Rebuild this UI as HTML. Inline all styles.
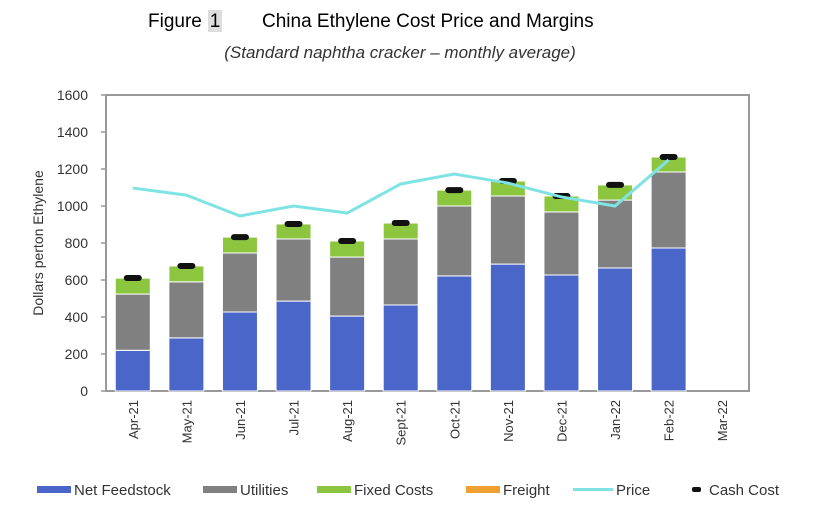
<!DOCTYPE html>
<html><head><meta charset="utf-8"><style>
body{margin:0;background:#fff;width:817px;height:517px;overflow:hidden;font-family:"Liberation Sans",sans-serif;}
</style></head><body>
<svg width="817" height="517" xmlns="http://www.w3.org/2000/svg">
<text x="148" y="27" font-size="19" font-family="Liberation Sans, sans-serif" fill="#000">Figure</text>
<rect x="208" y="10" width="14" height="22" fill="#ddd"/>
<text x="215" y="27" font-size="19" text-anchor="middle" fill="#000">1</text>
<text x="262" y="27" font-size="19" fill="#000">China Ethylene Cost Price and Margins</text>
<text x="400" y="58" font-size="17" font-style="italic" text-anchor="middle" fill="#333">(Standard naphtha cracker – monthly average)</text>
<g id="plot"></g>
<text transform="translate(43,243) rotate(-90)" font-size="14" text-anchor="middle" fill="#333">Dollars perton Ethylene</text>
<g id="legend" font-size="15" fill="#333"></g>
</svg>
<script>
const categories=["Apr-21","May-21","Jun-21","Jul-21","Aug-21","Sept-21","Oct-21","Nov-21","Dec-21","Jan-22","Feb-22","Mar-22"];
const feedstock=[220,287,427,486,405,465,622,686,627,665,773,null];
const utilities=[304,303,319,336,319,357,378,368,341,367,411,null];
const fixedCosts=[86,86,86,81,87,86,86,81,86,82,81,null];
const price=[1097,1059,946,1000,962,1119,1173,1124,1049,1000,1249];
const cashCost=[611,676,832,903,811,908,1086,1135,1054,1114,1265,null];
const yTicks=[0,200,400,600,800,1000,1200,1400,1600];
const NS="http://www.w3.org/2000/svg";
const X0=106,X1=749,Y0=391,Y1=95,YMAX=1600;
const bw=(X1-X0)/categories.length;
const y=v=>Y0-(v/YMAX)*(Y0-Y1);
const xc=i=>X0+(i+0.5)*bw;
const g=document.getElementById('plot');
function mk(t,a){const e=document.createElementNS(NS,t);for(const k in a)e.setAttribute(k,a[k]);return e;}
let fr=mk('rect',{x:X0,y:Y1,width:X1-X0,height:Y0-Y1,fill:'none',stroke:'#999','stroke-width':2});


g.appendChild(fr);
yTicks.forEach(t=>{
 let tl=mk('line',{x1:X0-5,x2:X0,y1:y(t),y2:y(t),stroke:'#999','stroke-width':1.5});
 
 
 g.appendChild(tl);
 let tx=mk('text',{x:X0-18,y:y(t)+5,'text-anchor':'end','font-size':14,fill:'#333'});
 tx.textContent=t;
 
 
 g.appendChild(tx);
});
const BW=35;
categories.forEach((c,i)=>{
 const x=xc(i);
 if(feedstock[i]!=null){
  let base=0;
  [[feedstock,'#4a66c9','bar-net-feedstock'],[utilities,'#808080','bar-utilities'],[fixedCosts,'#8cc63f','bar-fixed-costs']].forEach(([arr,col,nm])=>{
   const v=arr[i];
   let r=mk('rect',{x:x-BW/2,y:y(base+v),width:BW,height:y(base)-y(base+v),fill:col,stroke:'#fff','stroke-width':1});
   
   
   g.appendChild(r);
   base+=v;
  });
  let m=mk('rect',{x:x-9,y:y(cashCost[i])-3,width:18,height:6,rx:3,fill:'#111'});
  
  
  g.appendChild(m);
 }
 let t=mk('text',{transform:`translate(${x+5},400) rotate(-90)`,'text-anchor':'end','font-size':13,fill:'#333'});
 t.textContent=c;
 
 
 g.appendChild(t);
});
let pl=mk('polyline',{points:price.map((v,i)=>xc(i)+','+y(v)).join(' '),fill:'none',stroke:'#7fe3e3','stroke-width':3});


g.appendChild(pl);
const lg=document.getElementById('legend');
const items=[['Net Feedstock','#4a66c9','bar',37],['Utilities','#808080','bar',203],['Fixed Costs','#8cc63f','bar',317],['Freight','#f0a030','bar',466],['Price','#7fe3e3','line',573],['Cash Cost','#111','dash',690]];
items.forEach(([n,c,k,x])=>{
 let s;
 if(k==='bar')s=mk('rect',{x:x,y:486,width:34,height:7,fill:c});
 else if(k==='line')s=mk('rect',{x:x,y:488,width:40,height:3,fill:c});
 else s=mk('rect',{x:x+2,y:487,width:9,height:5,rx:2,fill:c});
 
 
 lg.appendChild(s);
 let t=mk('text',{x:x+(k==='line'?43:k==='dash'?19:37),y:495});
 t.textContent=n;
 
 
 lg.appendChild(t);
});
</script>
</body></html>
